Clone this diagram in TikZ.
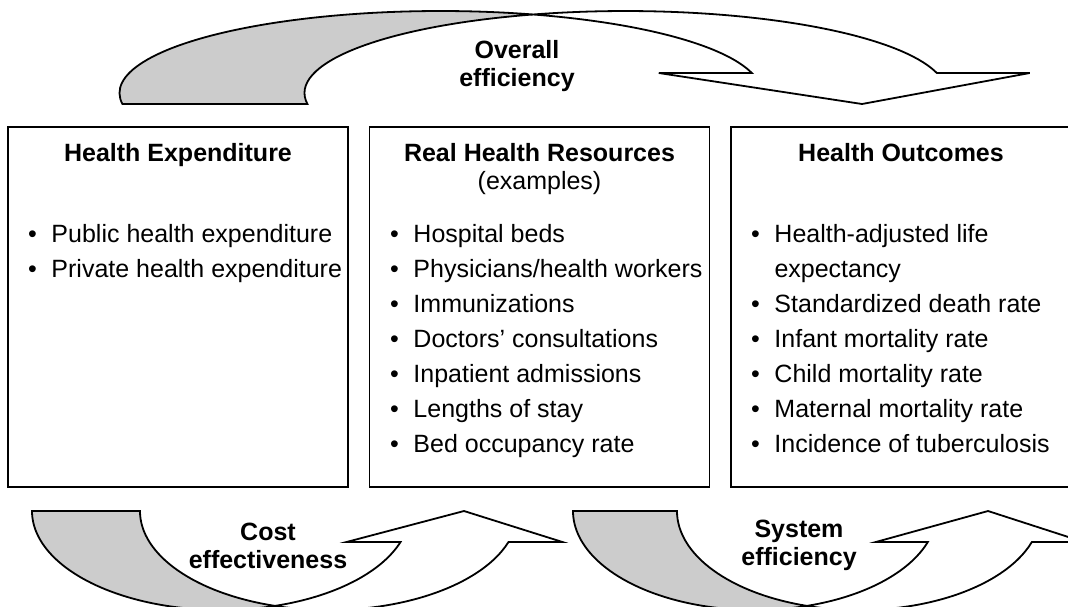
\documentclass[tikz,border=0pt]{standalone}
\usepackage{fontspec}
\setmainfont{Liberation Sans}
\usepackage{tikz}

\definecolor{backgray}{RGB}{204,204,204}
\newcommand{\txt}{\fontsize{12.5}{14}\selectfont}
\newcommand{\bul}{\makebox[0.94em][l]{\textbullet}}
\newcommand{\nobul}{\makebox[0.94em][l]{}}

\begin{document}
\begin{tikzpicture}[x=0.5pt,y=-0.5pt,
  box/.style={draw,line width=0.9pt,minimum width=170pt,minimum height=180pt,inner sep=0pt},
  title/.style={font=\txt\bfseries,anchor=base,inner sep=0pt},
  item/.style={font=\txt,anchor=base west,inner sep=0pt},
  lbl/.style={font=\txt\bfseries,align=center,inner sep=0pt},
  back/.style={draw,line width=0.9pt,fill=backgray},
  front/.style={draw,line width=0.9pt,fill=white}]
\useasboundingbox (0,0) rectangle (1068,606);
\clip (0,0) rectangle (1068,606);

% boxes
\node[box] (exp) at (178,307) {};
\node[box] (res) at (539.5,307) {};
\node[box,minimum width=172pt] (out) at (903,307) {};

\node[title] (exptitle) at (178,161.5) {Health Expenditure};
\node[title] (restitle) at (539.5,161.5) {Real Health Resources};
\node[font=\txt,anchor=base,inner sep=0pt] (resnote) at (539.5,189.5) {(examples)};
\node[title] (outtitle) at (901,161.5) {Health Outcomes};

% lists
\foreach \t [count=\i from 0] in {Public health expenditure, Private health expenditure}
  \node[item] (exp\i) at (27.6,242+35*\i) {\bul\t};
\foreach \t [count=\i from 0] in {Hospital beds, Physicians/health workers, Immunizations,
    Doctors' consultations, Inpatient admissions, Lengths of stay, Bed occupancy rate}
  \node[item] (res\i) at (389.6,242+35*\i) {\bul\t};
\foreach \t [count=\i from 0] in {\bul Health-adjusted life, \nobul expectancy,
    \bul Standardized death rate, \bul Infant mortality rate, \bul Child mortality rate,
    \bul Maternal mortality rate, \bul Incidence of tuberculosis}
  \node[item] (out\i) at (750.6,242+35*\i) {\t};

% overall efficiency arrow
\draw[back] (122.4,104) arc[start angle=172.29, end angle=286.75, x radius=321, y radius=82]
  arc[start angle=253.25, end angle=172.29, x radius=321, y radius=82] -- cycle;
\draw[front] (533,14.5) arc[start angle=253.25, end angle=345.88, x radius=321, y radius=82]
  -- (1029.8,73) -- (862,104) -- (658.8,73) -- (751.8,73)
  arc[start angle=345.88, end angle=286.75, x radius=321, y radius=82] -- cycle;

% cost effectiveness arrow
\draw[back] (32,511) arc[start angle=180, end angle=73.4, x radius=189, y radius=99]
  arc[start angle=106.6, end angle=180, x radius=189, y radius=99] -- cycle;
\draw[front] (275,605.9) arc[start angle=106.6, end angle=18.25, x radius=189, y radius=99]
  -- (562.5,542) -- (464,511) -- (346.5,542) -- (400.5,542)
  arc[start angle=18.25, end angle=73.4, x radius=189, y radius=99] -- cycle;

% system efficiency arrow
\draw[back] (573,511) arc[start angle=180, end angle=73.4, x radius=182, y radius=99]
  arc[start angle=106.6, end angle=180, x radius=182, y radius=99] -- cycle;
\draw[front] (807,605.9) arc[start angle=106.6, end angle=18.25, x radius=182, y radius=99]
  -- (1083.8,542) -- (988,511) -- (875.8,542) -- (927.8,542)
  arc[start angle=18.25, end angle=73.4, x radius=182, y radius=99] -- cycle;

\node[lbl] (overall) at (517,66.5) {Overall\\efficiency};
\node[lbl] (cost) at (268,546) {Cost\\effectiveness};
\node[lbl] (system) at (799,545) {System\\efficiency};
\end{tikzpicture}
\end{document}
